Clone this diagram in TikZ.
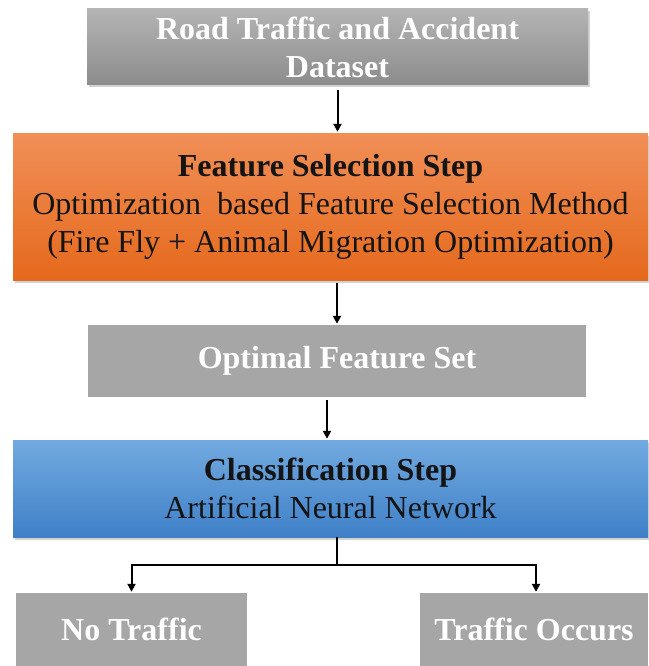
\documentclass[tikz,border=0pt]{standalone}
\usepackage{fontspec}
\setmainfont{Liberation Serif}
\usetikzlibrary{arrows.meta,shadows,calc}
\definecolor{grayA}{HTML}{B4B4B4}
\definecolor{grayB}{HTML}{8C8C8C}
\definecolor{grayflat}{HTML}{A6A6A6}
\definecolor{orA}{HTML}{F18F57}
\definecolor{orB}{HTML}{E5691C}
\definecolor{blA}{HTML}{72AAE0}
\definecolor{blB}{HTML}{3F80C8}
\tikzset{
  base/.style={rectangle, inner sep=0pt, align=center, font=\rmfamily\fontsize{32}{38}\selectfont},
  graybox/.style={base, fill=grayflat, text=white},
  gradgray/.style={base, top color=grayA, bottom color=grayB, text=white,
     drop shadow={shadow xshift=1.5pt, shadow yshift=-2.5pt, opacity=0.35}},
  orbox/.style={base, top color=orA, bottom color=orB, text=black!92,
     drop shadow={shadow xshift=1.5pt, shadow yshift=-2.5pt, opacity=0.35}},
  blbox/.style={base, top color=blA, bottom color=blB, text=black!92,
     drop shadow={shadow xshift=1.5pt, shadow yshift=-2.5pt, opacity=0.35}},
  arr/.style={line width=2pt, -{Triangle[length=8pt,width=8pt]}, shorten >=1pt},
  ln/.style={line width=2pt}
}
\begin{document}
\begin{tikzpicture}[x=1pt,y=-1pt]
\useasboundingbox[fill=white] (0,0) rectangle (648,666);
\node[gradgray, minimum width=501pt, minimum height=76pt] (b1) at (337.5,47)
  {\bfseries Road Traffic and Accident\\\bfseries Dataset};
\node[orbox, minimum width=635pt, minimum height=147pt] (b2) at (330.5,206.5)
  {\bfseries Feature Selection Step\\Optimization\ \ based Feature Selection Method\\(Fire Fly + Animal Migration Optimization)};
\node[graybox, minimum width=498pt, minimum height=72pt] (b3) at (337,361)
  {\bfseries Optimal Feature Set};
\node[blbox, minimum width=635pt, minimum height=97pt] (b4) at (330.5,488.5)
  {\bfseries Classification Step\\Artificial Neural Network};
\node[graybox, minimum width=231pt, minimum height=73pt] (b5) at (131.5,629.5)
  {\bfseries No Traffic};
\node[graybox, minimum width=228pt, minimum height=73pt] (b6) at (534,629.5)
  {\bfseries Traffic Occurs};
\draw[arr] (b1.south) ++(0,5) coordinate (a1) -- (a1 |- b2.north);
\draw[arr] ([xshift=6.5pt]b2.south) ++(0,3) coordinate (a2) -- (a2 |- b3.north);
\draw[arr] ([xshift=-10pt]b3.south) ++(0,3) coordinate (a3) -- (a3 |- b4.north);
\draw[ln] ([xshift=6.5pt]b4.south) -- ++(0,28) coordinate (j);
\draw[arr] (j) -| (b5.north);
\draw[arr] (j) -| ([xshift=2pt]b6.north);
\end{tikzpicture}
\end{document}
